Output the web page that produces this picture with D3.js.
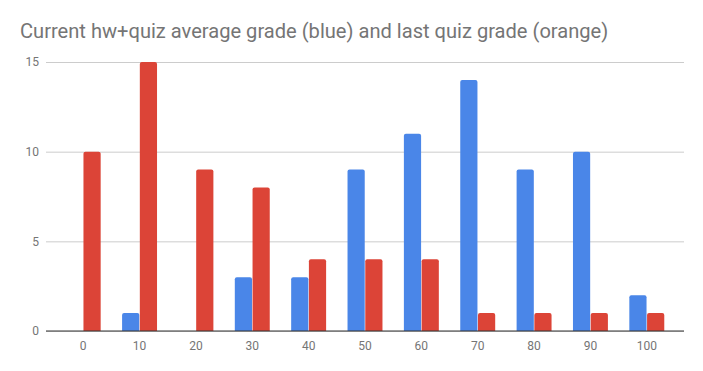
<!DOCTYPE html>
<html lang="en">
<head>
<meta charset="UTF-8">
<title>Grades</title>
<script src="https://d3js.org/d3.v7.min.js"></script>
<style>
  html, body { margin: 0; padding: 0; background: #fff; }
  body { font-family: Roboto, "Noto Sans", sans-serif; }
</style>
</head>
<body>
<svg id="chart" width="703" height="371"></svg>
<script>
// data
const categories = ["0", "10", "20", "30", "40", "50", "60", "70", "80", "90", "100"];
const seriesNames = ["average", "lastQuiz"];
const averageGrade = [0, 1, 0, 3, 3, 9, 11, 14, 9, 10, 2];
const lastQuizGrade = [10, 15, 9, 8, 4, 4, 4, 1, 1, 1, 1];
const yTicks = [0, 5, 10, 15];
const title = "Current hw+quiz average grade (blue) and last quiz grade (orange)";

const width = 703, height = 371;
const margin = { left: 46, right: 19, top: 62, bottom: 40 };
const colors = { average: "#4a86e8", lastQuiz: "#dc4437" };

const rows = categories.map((c, i) => ({ cat: c, average: averageGrade[i], lastQuiz: lastQuizGrade[i] }));

const svg = d3.select("#chart");

const x0 = d3.scaleBand()
  .domain(categories)
  .range([margin.left, width - margin.right])
  .paddingInner(0.38)
  .paddingOuter(0.35);

const x1 = d3.scaleBand()
  .domain(seriesNames)
  .range([0, x0.bandwidth()])
  .paddingInner(0.03);

const y = d3.scaleLinear()
  .domain([0, 15])
  .range([height - margin.bottom, margin.top]);

// title
svg.append("text")
  .attr("x", 20)
  .attr("y", 38)
  .attr("font-size", 20.1)
  .attr("fill", "#757575")
  .text(title);

// gridlines + y labels
const yAxis = svg.append("g")
  .attr("transform", `translate(${margin.left},0)`)
  .call(d3.axisLeft(y).tickValues(yTicks).tickSize(-(width - margin.left - margin.right)).tickPadding(7));
yAxis.select(".domain").remove();
yAxis.selectAll("line").attr("stroke", "#cccccc");
yAxis.selectAll("text").attr("fill", "#757575").attr("font-size", 12).attr("font-family", "Roboto");

// bars with slightly rounded tops
function barPath(xl, w, yt, yb, r) {
  if (yb - yt < 0.5) return "";
  r = Math.min(r, (yb - yt), w / 2);
  return `M${xl},${yb}V${yt + r}Q${xl},${yt} ${xl + r},${yt}H${xl + w - r}Q${xl + w},${yt} ${xl + w},${yt + r}V${yb}Z`;
}

const groups = svg.append("g").selectAll("g")
  .data(rows)
  .join("g")
  .attr("transform", d => `translate(${x0(d.cat)},0)`);

groups.selectAll("path")
  .data(d => seriesNames.map(k => ({ key: k, value: d[k] })))
  .join("path")
  .attr("fill", d => colors[d.key])
  .attr("d", d => barPath(x1(d.key), x1.bandwidth(), y(d.value), y(0), 2));

// baseline
svg.append("line")
  .attr("x1", margin.left).attr("x2", width - margin.right)
  .attr("y1", y(0)).attr("y2", y(0))
  .attr("stroke", "#333333").attr("stroke-width", 1);

// x labels
const xAxis = svg.append("g")
  .attr("transform", `translate(0,${y(0)})`)
  .call(d3.axisBottom(x0).tickSize(0).tickPadding(10));
xAxis.select(".domain").remove();
xAxis.selectAll("text").attr("fill", "#757575").attr("font-size", 12).attr("font-family", "Roboto");
</script>
</body>
</html>
